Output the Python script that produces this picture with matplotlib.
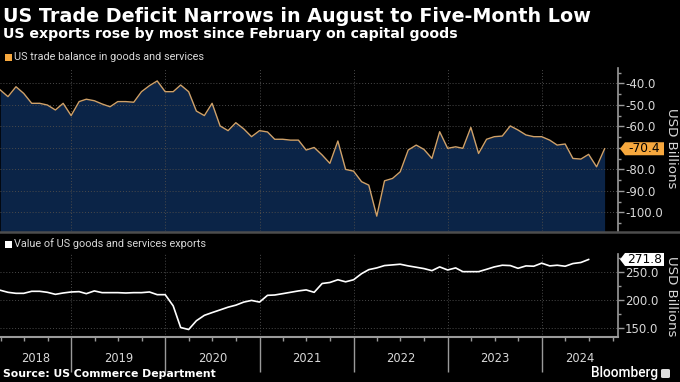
import matplotlib
matplotlib.use("Agg")
import matplotlib.pyplot as plt
import matplotlib.dates as mdates
import matplotlib.patches as patches
from matplotlib.transforms import IdentityTransform, blended_transform_factory
from matplotlib.lines import Line2D
import pandas as pd

plt.rcParams['font.family'] = ['Roboto', 'DejaVu Sans']
plt.rcParams['axes.unicode_minus'] = False
WIDE = ['DejaVu Sans']

# monthly US trade balance, USD bn (Mar 2018 - Aug 2024)
trade_balance = [
    -43.1, -46.2, -41.6, -44.7, -49.3, -49.3, -50.1, -52.4, -49.3, -55.0,
    -48.5, -47.4, -48.1, -49.6, -50.9, -48.5, -48.5, -48.8, -43.9, -41.1, -38.9, -43.9,
    -43.9, -40.8, -43.9, -52.9, -55.0, -49.3, -59.8, -62.0, -58.3, -61.2, -64.8, -62.0,
    -62.6, -66.0, -66.0, -66.4, -66.4, -71.0, -69.8, -73.3, -77.2, -66.8, -80.0, -80.8,
    -85.7, -87.3, -101.7, -85.3, -84.2, -81.1, -71.0, -68.7, -70.7, -74.9, -62.5, -70.2,
    -69.5, -70.2, -60.5, -72.6, -66.0, -64.8, -64.5, -59.8, -61.7, -64.0, -64.8, -64.8,
    -66.4, -68.7, -68.2, -74.9, -75.2, -73.0, -78.8, -70.4,
]

# value of exports, USD bn (as positioned on the chart)
exports = [
    216.7, 213.0, 211.2, 211.2, 214.8, 214.8, 213.0, 209.4, 211.8, 213.6,
    214.2, 210.6, 215.5, 212.4, 212.4, 212.4, 211.8, 212.4, 212.4, 213.6, 208.8, 208.8,
    188.8, 150.0, 146.4, 162.1, 171.8, 176.7, 181.5, 186.4, 190.0, 195.5, 198.5, 195.5,
    207.6, 208.2, 210.6, 213.0, 215.5, 217.3, 213.0, 228.8, 230.6, 235.5, 231.8, 235.5,
    246.4, 253.6, 256.7, 260.9, 262.1, 263.3, 260.3, 257.9, 255.5, 251.8, 258.5, 253.0,
    256.7, 250.0, 250.0, 250.0, 254.2, 258.5, 261.5, 260.9, 256.0, 260.3, 259.7, 265.2,
    260.3, 261.5, 259.7, 264.5, 266.4, 271.8,
]

years = ["2018", "2019", "2020", "2021", "2022", "2023", "2024"]
top_ticks = [-40, -50, -60, -70, -80, -90, -100]
bottom_ticks = [150, 200, 250]


def month_ends(start, n):
    try:
        return pd.date_range(start, periods=n, freq='ME')
    except ValueError:
        return pd.date_range(start, periods=n, freq='M')


tb_dates = month_ends('2018-03-31', len(trade_balance))
ex_dates = month_ends('2018-03-31', len(exports))

W, H = 680, 382
BG = '#000000'
NAVY = '#0b2447'
TAN = '#cfa169'
ORANGE = '#f7a83e'
GRID = '#4a4a4a'
AXC = '#9a9a9a'
TXT = '#d8d8d8'

fig = plt.figure(figsize=(W / 100, H / 100), dpi=100, facecolor=BG)


def fy(px):
    return 1 - px / H


x_left = pd.Timestamp('2018-03-30')
x_right = pd.Timestamp('2024-10-22')

ax1 = fig.add_axes([0, fy(231), 618 / W, (231 - 68) / H])
ax2 = fig.add_axes([0, fy(337), 618 / W, (337 - 254) / H])

for ax in (ax1, ax2):
    ax.set_facecolor(BG)
    ax.set_xlim(x_left, x_right)
    for s in ('top', 'left'):
        ax.spines[s].set_visible(False)
    ax.spines['right'].set_color(AXC)
    ax.spines['right'].set_linewidth(1.2)
    ax.yaxis.tick_right()
    ax.tick_params(axis='y', colors=AXC, labelcolor=TXT, labelsize=8.5,
                   length=4, width=1, direction='out', pad=1)
    ax.tick_params(axis='y', which='minor', colors=AXC, length=2, width=1)
    ax.set_axisbelow(False)
    for yr in years[1:]:
        ax.axvline(pd.Timestamp(yr + '-01-01'), color=GRID, lw=0.7, ls=(0, (1, 2)), zorder=2.5)

# top panel: trade balance
ax1.set_ylim(-108.6, -32.9)
ax1.fill_between(tb_dates, trade_balance, -120, color=NAVY, lw=0, zorder=1)
ax1.plot(tb_dates, trade_balance, color=TAN, lw=1.0, zorder=3)
ax1.set_yticks(top_ticks)
# the -70 label sits under the value tag in the reference
ax1.set_yticklabels(["" if v == -70 else f"{v:.1f}" for v in top_ticks])
ax1.set_yticks(list(range(-105, -34, 5)), minor=True)
for v in top_ticks:
    ax1.axhline(v, color=GRID, lw=0.7, ls=(0, (1, 2)), zorder=2.5)
ax1.spines['bottom'].set_visible(False)
ax1.set_xticks([])

# bottom panel: exports
ax2.set_ylim(133, 281.6)
ax2.plot(ex_dates, exports, color='white', lw=1.2, zorder=3)
ax2.set_yticks(bottom_ticks)
ax2.set_yticklabels([f"{v:.1f}" for v in bottom_ticks])
ax2.set_yticks([175, 225, 275], minor=True)
for v in bottom_ticks:
    ax2.axhline(v, color=GRID, lw=0.7, ls=(0, (1, 2)), zorder=2.5)
ax2.spines['bottom'].set_color(AXC)
ax2.spines['bottom'].set_linewidth(1.5)
ax2.xaxis.set_major_locator(mdates.YearLocator())
ax2.xaxis.set_minor_locator(mdates.MonthLocator(bymonth=[1, 4, 7, 10]))
ax2.tick_params(axis='x', which='major', colors=AXC, length=25, width=1, labelbottom=False)
ax2.tick_params(axis='x', which='minor', colors=AXC, length=3, width=1)

for ax in (ax1, ax2):
    for lab in ax.get_yticklabels():
        lab.set_family(WIDE)

# year labels centred in the visible part of each year
tr = blended_transform_factory(ax2.transData, ax2.transAxes)
for yr in years:
    a = max(pd.Timestamp(yr + '-01-01'), x_left)
    b = min(pd.Timestamp(str(int(yr) + 1) + '-01-01'), x_right)
    mid = a + (b - a) / 2
    ax2.text(mid, -0.255, yr, transform=tr, ha='center', va='center',
             color=TXT, fontsize=8.3, family=WIDE)

# separator line under the top panel
fig.add_artist(Line2D([0, 1], [fy(231.5), fy(231.5)], transform=fig.transFigure,
                      color='#4d4d4d', lw=1.8))

# titles and legends
fig.text(3 / W, fy(17), "US Trade Deficit Narrows in August to Five-Month Low",
         color='white', fontsize=13.8, fontweight='bold', va='center', ha='left', family=WIDE)
fig.text(3 / W, fy(34), "US exports rose by most since February on capital goods",
         color='white', fontsize=10.2, fontweight='bold', va='center', ha='left', family=WIDE)

fig.add_artist(patches.Rectangle((5 / W, fy(61)), 7 / W, 7 / H, transform=fig.transFigure,
                                 facecolor=ORANGE, edgecolor='none'))
fig.text(14 / W, fy(57), "US trade balance in goods and services", color=TXT,
         fontsize=7.8, va='center', ha='left')
fig.add_artist(patches.Rectangle((5 / W, fy(247.5)), 7 / W, 7 / H, transform=fig.transFigure,
                                 facecolor='white', edgecolor='none'))
fig.text(14 / W, fy(243.5), "Value of US goods and services exports", color=TXT,
         fontsize=7.8, va='center', ha='left')

fig.text(671 / W, fy(148), "USD Billions", rotation=270, color=TXT, fontsize=9.6,
         va='center', ha='center', family=WIDE)
fig.text(671 / W, fy(296), "USD Billions", rotation=270, color=TXT, fontsize=9.6,
         va='center', ha='center', family=WIDE)

fig.text(3 / W, fy(374), "Source: US Commerce Department", color='white',
         fontsize=7.8, fontweight='bold', va='center', ha='left', family=WIDE)
fig.text(658 / W, fy(373), "Bloomberg", color='white', fontsize=9.8,
         fontweight='medium', va='center', ha='right')
fig.add_artist(patches.FancyBboxPatch((661 / W, fy(378)), 9 / W, 9 / H,
                                      boxstyle='round,pad=0,rounding_size=0.003',
                                      transform=fig.transFigure,
                                      facecolor='#dddddd', edgecolor='none'))


# value tags at the last point of each series
def value_tag(ax, value, face):
    x0 = ax.transAxes.transform((1, 0))[0] + 2
    y0 = ax.transData.transform((0, value))[1]
    w, h, tip = 44, 13, 5
    verts = [(x0, y0), (x0 + tip, y0 + h / 2), (x0 + w, y0 + h / 2),
             (x0 + w, y0 - h / 2), (x0 + tip, y0 - h / 2)]
    fig.add_artist(patches.Polygon(verts, closed=True, transform=IdentityTransform(),
                                   facecolor=face, edgecolor='none', zorder=5))
    fig.text((x0 + tip + (w - tip) / 2) / W, y0 / H, f"{value:.1f}", color='black',
             fontsize=8.8, va='center', ha='center', zorder=6, family=WIDE)


value_tag(ax1, trade_balance[-1], ORANGE)
value_tag(ax2, exports[-1], 'white')

fig.savefig('out.png', dpi=100, facecolor=BG)
